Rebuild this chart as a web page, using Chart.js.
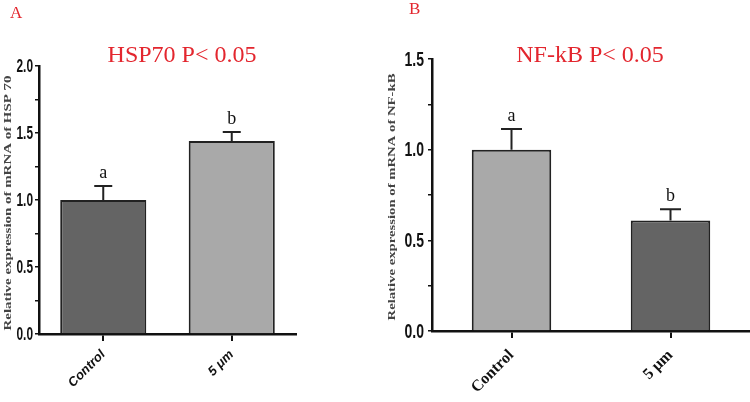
<!DOCTYPE html>
<html lang="en">
<head>
    <meta charset="UTF-8">
    <title>HSP70 / NF-kB relative expression</title>
    <style>
        * { margin: 0; padding: 0; box-sizing: border-box; }
        body { background: #fff; width: 750px; height: 402px; position: relative; overflow: hidden; }
        .panel { position: absolute; top: 0; height: 402px; }
        #panelA { left: 0; width: 370px; }
        #panelB { left: 370px; width: 380px; }
    </style>
    <script src="https://cdn.jsdelivr.net/npm/chart.js"></script>
</head>
<body>
    <div class="panel" id="panelA"><canvas id="chartA"></canvas></div>
    <div class="panel" id="panelB"><canvas id="chartB"></canvas></div>

    <script>
        // data
        const categories = ['Control', '5 μm'];
        const tickStep = 0.25;

        const hspMeans = [1.0, 1.44];
        const hspErrors = [0.105, 0.067];
        const hspLetters = ['a', 'b'];

        const nfkbMeans = [1.0, 0.61];
        const nfkbErrors = [0.114, 0.061];
        const nfkbLetters = ['a', 'b'];

        const RED = '#e3262e';
        const DARK = '#646464';
        const LIGHT = '#a9a9a9';
        const SANS = '"Liberation Sans", Arial, sans-serif';
        const SERIF = '"Liberation Serif", "Times New Roman", serif';

        // error bars, letters, condensed y labels and the free texts
        const annotate = {
            id: 'annotate',
            afterDatasetsDraw(chart, args, o) {
                const ctx = chart.ctx;
                const x = chart.scales.x, y = chart.scales.y;
                const means = chart.data.datasets[0].data;
                ctx.save();
                ctx.strokeStyle = '#222';
                ctx.lineWidth = 2;
                means.forEach((m, i) => {
                    const px = x.getPixelForValue(i);
                    const top = y.getPixelForValue(m + o.errors[i]);
                    ctx.beginPath();
                    ctx.moveTo(px, y.getPixelForValue(m));
                    ctx.lineTo(px, top);
                    ctx.moveTo(px - o.cap / 2, top);
                    ctx.lineTo(px + o.cap / 2, top);
                    ctx.stroke();
                    ctx.fillStyle = '#111';
                    ctx.font = '18px ' + SERIF;
                    ctx.textAlign = 'center';
                    ctx.textBaseline = 'alphabetic';
                    ctx.fillText(o.letters[i], px, top - 8);
                });

                // y tick labels, squeezed like the narrow font of the figure
                ctx.fillStyle = '#111';
                ctx.font = 'bold ' + o.yFontSize + 'px ' + SANS;
                ctx.textAlign = 'right';
                ctx.textBaseline = 'middle';
                y.ticks.forEach(t => {
                    if (Math.abs(t.value / 0.5 - Math.round(t.value / 0.5)) > 1e-6) return;
                    ctx.save();
                    ctx.translate(y.right - o.labelGap, y.getPixelForValue(t.value));
                    ctx.scale(o.squeeze, 1);
                    ctx.fillText(t.value.toFixed(1), 0, 1);
                    ctx.restore();
                });

                // panel letter and title
                ctx.fillStyle = RED;
                ctx.textAlign = 'left';
                ctx.textBaseline = 'alphabetic';
                ctx.font = '17px ' + SERIF;
                ctx.fillText(o.panel, o.panelX, o.panelY);
                ctx.textAlign = 'center';
                ctx.font = '24px ' + SERIF;
                ctx.fillText(o.title, o.titleX, 62);

                // rotated y title, stretched to the length it has in the figure
                ctx.translate(o.yTitleX, o.yTitleY);
                ctx.rotate(-Math.PI / 2);
                ctx.font = 'bold 11px ' + SERIF;
                const w = ctx.measureText(o.yTitle).width;
                ctx.scale(o.yTitleLen / w, 1);
                ctx.fillStyle = '#444';
                ctx.textBaseline = 'middle';
                ctx.fillText(o.yTitle, 0, 0);
                ctx.restore();
            }
        };

        function makeChart(id, means, colors, o) {
            return new Chart(document.getElementById(id), {
                type: 'bar',
                data: {
                    labels: categories,
                    datasets: [{
                        data: means,
                        backgroundColor: colors,
                        borderColor: '#222',
                        borderWidth: 2,
                        borderSkipped: 'bottom',
                        barPercentage: o.barPct,
                        categoryPercentage: 1
                    }]
                },
                options: {
                    responsive: true,
                    maintainAspectRatio: false,
                    animation: false,
                    layout: { padding: { left: 0, right: o.padRight, top: o.top, bottom: 0 } },
                    plugins: {
                        legend: { display: false },
                        tooltip: { enabled: false },
                        annotate: o
                    },
                    scales: {
                        x: {
                            afterFit: s => { s.height = 402 - o.bottom; },
                            grid: { drawOnChartArea: false, offset: false, color: '#111', lineWidth: 2, tickLength: 7 },
                            border: { color: '#111', width: 2.5 },
                            ticks: {
                                minRotation: 45, maxRotation: 45, padding: o.xPad,
                                color: '#111',
                                font: o.xFont
                            }
                        },
                        y: {
                            min: 0, max: o.max,
                            afterFit: s => { s.width = o.axisX; },
                            grid: { drawOnChartArea: false, color: '#111', lineWidth: 1.5, tickLength: 4 },
                            border: { color: '#111', width: 2.5 },
                            ticks: {
                                stepSize: tickStep,
                                color: 'rgba(0,0,0,0)',
                                callback: v => (Math.abs(v / 0.5 - Math.round(v / 0.5)) < 1e-6 ? v.toFixed(1) : '')
                            }
                        }
                    }
                },
                plugins: [annotate]
            });
        }

        makeChart('chartA', hspMeans, [DARK, LIGHT], {
            errors: hspErrors, letters: hspLetters, cap: 18,
            panel: 'A', panelX: 10, panelY: 18,
            title: 'HSP70 P< 0.05', titleX: 182,
            yTitle: 'Relative expression of mRNA of HSP 70', yTitleX: 8, yTitleY: 203, yTitleLen: 255,
            max: 2.0, axisX: 39, padRight: 74, top: 66, bottom: 334, barPct: 0.67,
            yFontSize: 18, squeeze: 0.66, labelGap: 6,
            xPad: 6, xFont: { family: SANS, weight: 'bold', style: 'italic', size: 13 }
        });

        makeChart('chartB', nfkbMeans, [LIGHT, DARK], {
            errors: nfkbErrors, letters: nfkbLetters, cap: 21,
            panel: 'B', panelX: 39, panelY: 14,
            title: 'NF-kB P< 0.05', titleX: 220,
            yTitle: 'Relative expression of mRNA of NF-kB', yTitleX: 22, yTitleY: 197, yTitleLen: 247,
            max: 1.5, axisX: 62, padRight: 0, top: 59, bottom: 331, barPct: 0.5,
            yFontSize: 20, squeeze: 0.7, labelGap: 8,
            xPad: 8, xFont: { family: SERIF, weight: 'bold', size: 16 }
        });
    </script>
</body>
</html>
